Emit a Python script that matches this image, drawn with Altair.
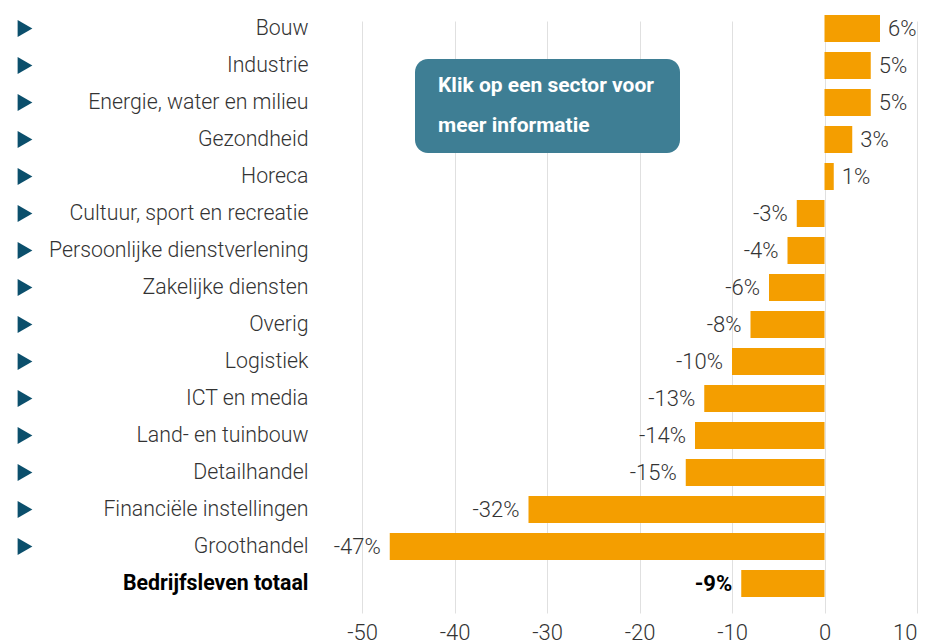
import altair as alt
import pandas as pd

sectors = [
    "Bouw", "Industrie", "Energie, water en milieu", "Gezondheid", "Horeca",
    "Cultuur, sport en recreatie", "Persoonlijke dienstverlening",
    "Zakelijke diensten", "Overig", "Logistiek", "ICT en media",
    "Land- en tuinbouw", "Detailhandel", "Financiële instellingen",
    "Groothandel", "Bedrijfsleven totaal",
]
values = [6, 5, 5, 3, 1, -3, -4, -6, -8, -10, -13, -14, -15, -32, -47, -9]
x_ticks = [-50, -40, -30, -20, -10, 0, 10]
callout_lines = ["Klik op een sector voor", "meer informatie"]
TOTAL = "Bedrijfsleven totaal"

FONT = "Roboto"
BAR = "#f49e00"
TRI = "#0b4f6c"
BOX = "#3e7e94"
TXT = "#333333"

df = pd.DataFrame({"sector": sectors, "value": values})
df["label"] = [f"{v}%" for v in values]

is_total = f"datum.value == '{TOTAL}'"

y_enc = alt.Y(
    "sector:N",
    sort=sectors,
    scale=alt.Scale(range=[2, 594], paddingInner=0.27, paddingOuter=0.135),
    axis=alt.Axis(
        title=None, domain=False, ticks=False, grid=False,
        labelPadding=54, labelFont=FONT, labelFontSize=21.3, labelLimit=400,
        labelColor={"condition": {"test": is_total, "value": "#000000"}, "value": TXT},
        labelFontWeight={"condition": {"test": is_total, "value": "bold"}, "value": 300},
    ),
)
x_enc = alt.X(
    "value:Q",
    scale=alt.Scale(domain=[-50, 10], nice=False),
    axis=alt.Axis(
        values=x_ticks, title=None, domain=False, ticks=False, labelFlush=False,
        labelPadding=7, labelFont=FONT, labelFontSize=22, labelFontWeight=300,
        labelColor=TXT, gridColor="#e0e0e0", labelExpr="'' + datum.value",
        labelAlign={"condition": {"test": "datum.value == 10", "value": "right"}, "value": "center"},
    ),
)

base = alt.Chart(df)

bars = base.mark_bar(color=BAR).encode(x=x_enc, y=y_enc)

pos = base.transform_filter("datum.value >= 0").mark_text(
    align="left", baseline="middle", dx=8, font=FONT, fontSize=22,
    fontWeight=300, color=TXT,
).encode(x="value:Q", y=alt.Y("sector:N", sort=sectors), text="label:N")

neg = base.transform_filter(f"datum.value < 0 && datum.sector != '{TOTAL}'").mark_text(
    align="right", baseline="middle", dx=-9, font=FONT, fontSize=22,
    fontWeight=300, color=TXT,
).encode(x="value:Q", y=alt.Y("sector:N", sort=sectors), text="label:N")

tot = base.transform_filter(f"datum.sector == '{TOTAL}'").mark_text(
    align="right", baseline="middle", dx=-9, font=FONT, fontSize=22,
    fontWeight="bold", color="#000000",
).encode(x="value:Q", y=alt.Y("sector:N", sort=sectors), text="label:N")

tris = base.transform_filter(f"datum.sector != '{TOTAL}'").mark_point(
    shape="triangle-right", filled=True, size=290, color=TRI, opacity=1,
).encode(x=alt.value(-337), y=alt.Y("sector:N", sort=sectors))

one = alt.Chart(pd.DataFrame({"k": [0]}))
box = one.mark_rect(color=BOX, cornerRadius=13).encode(
    x=alt.value(53), x2=alt.value(318), y=alt.value(51), y2=alt.value(145)
)
line1 = one.mark_text(
    align="left", baseline="middle", font=FONT, fontSize=21,
    fontWeight="bold", color="white",
).encode(x=alt.value(76), y=alt.value(78), text=alt.value(callout_lines[0]))
line2 = one.mark_text(
    align="left", baseline="middle", font=FONT, fontSize=21,
    fontWeight="bold", color="white",
).encode(x=alt.value(76), y=alt.value(118), text=alt.value(callout_lines[1]))

chart = alt.layer(bars, pos, neg, tot, tris, box, line1, line2).properties(
    width=555,
    height=607,
    autosize=alt.AutoSizeParams(type="none"),
    padding={"left": 354, "top": 0, "right": 6, "bottom": 29},
    background="white",
).configure_view(stroke=None)

chart.save("out.html", embed_options={"renderer": "svg", "actions": False})
